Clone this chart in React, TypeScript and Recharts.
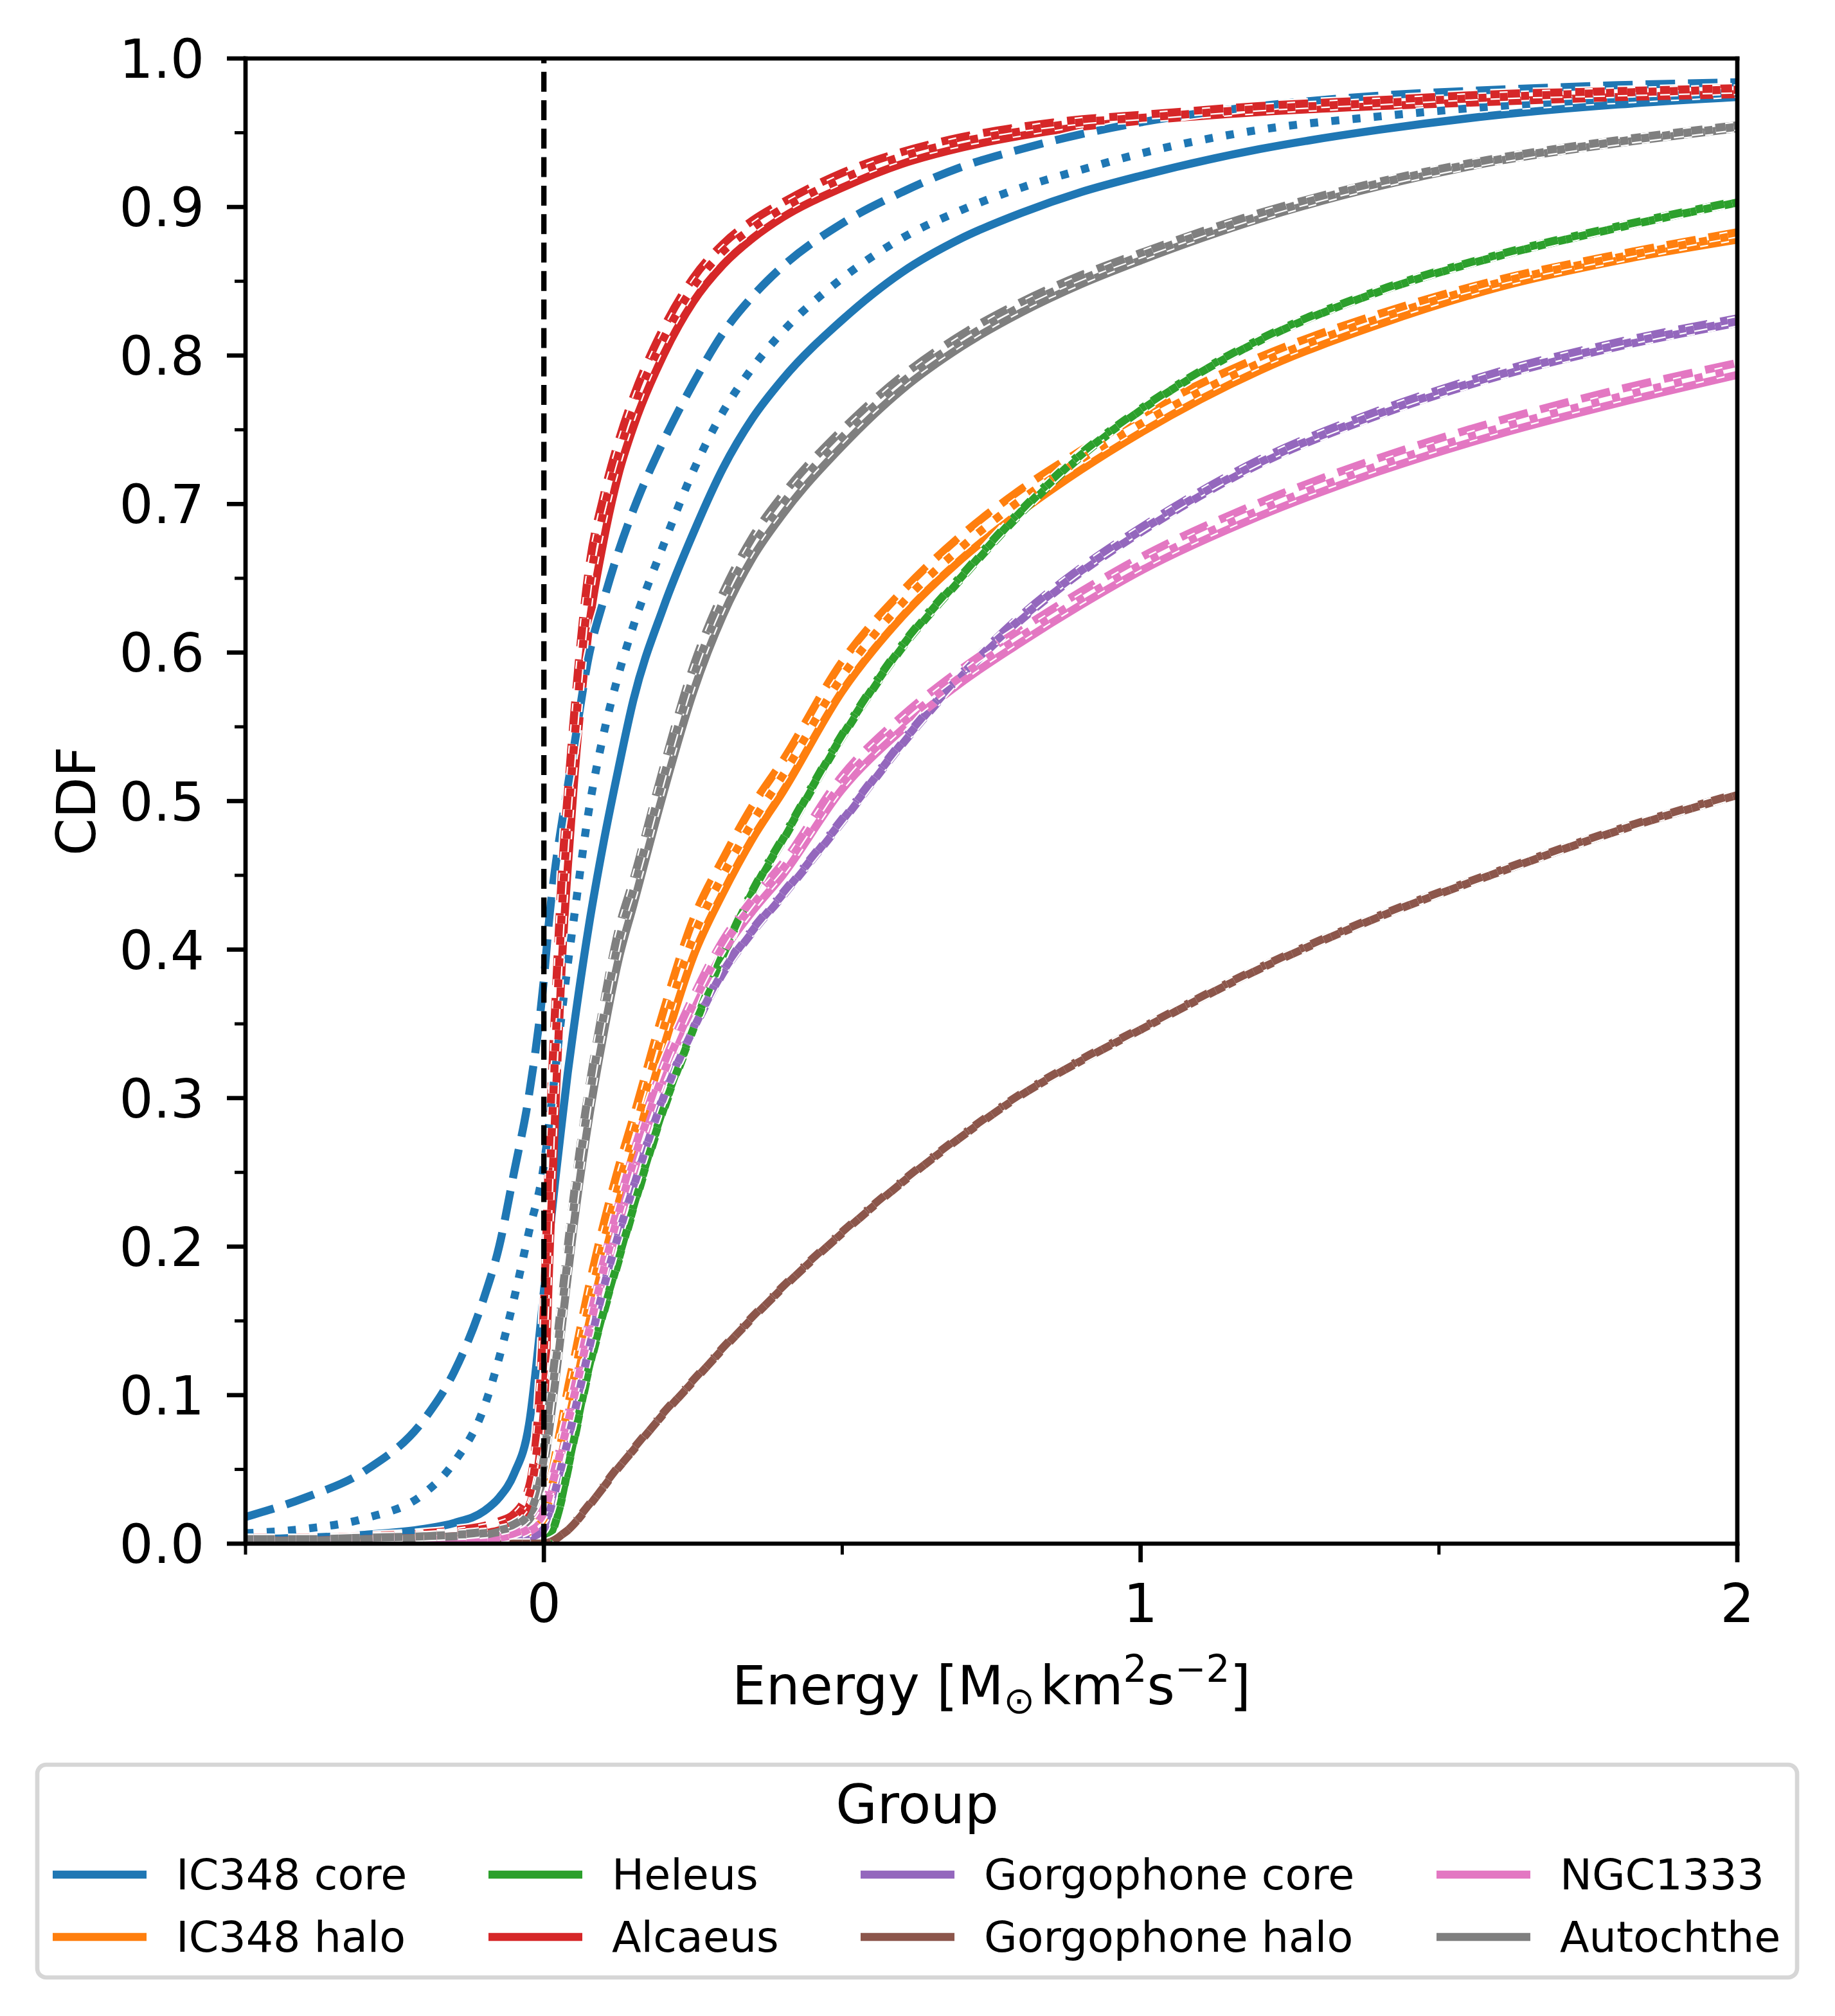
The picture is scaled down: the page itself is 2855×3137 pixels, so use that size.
import React from 'react';
import { LineChart, Line, XAxis, YAxis, ReferenceLine, Label } from 'recharts';

// Energy grid (x values)
const energy = [-0.5, -0.4, -0.3, -0.2, -0.15, -0.1, -0.075, -0.05, -0.025, 0, 0.01, 0.02, 0.03, 0.04, 0.05, 0.075, 0.1, 0.125, 0.15, 0.2, 0.25, 0.3, 0.35, 0.4, 0.5, 0.6, 0.7, 0.8, 0.9, 1.0, 1.2, 1.4, 1.6, 1.8, 2.0];

const groups = ['IC348 core', 'IC348 halo', 'Heleus', 'Alcaeus', 'Gorgophone core', 'Gorgophone halo', 'NGC1333', 'Autochthe'];
const colors = ['#1f77b4', '#ff7f0e', '#2ca02c', '#d62728', '#9467bd', '#8c564b', '#e377c2', '#7f7f7f'];

const xTicks = [-0.5, 0, 0.5, 1, 1.5, 2];
const yTicks = [0, 0.05, 0.1, 0.15, 0.2, 0.25, 0.3, 0.35, 0.4, 0.45, 0.5, 0.55, 0.6, 0.65, 0.7, 0.75, 0.8, 0.85, 0.9, 0.95, 1.0];

// IC348 core
const ic348CoreSolid = [0.003, 0.004, 0.006, 0.010, 0.014, 0.022, 0.031, 0.047, 0.080, 0.170, 0.210, 0.248, 0.283, 0.317, 0.347, 0.415, 0.472, 0.522, 0.568, 0.630, 0.680, 0.724, 0.758, 0.784, 0.824, 0.856, 0.879, 0.896, 0.910, 0.921, 0.939, 0.952, 0.962, 0.969, 0.974];
const ic348CoreDashed = [0.018, 0.031, 0.049, 0.084, 0.116, 0.166, 0.200, 0.250, 0.302, 0.380, 0.425, 0.458, 0.485, 0.510, 0.535, 0.597, 0.635, 0.668, 0.696, 0.742, 0.781, 0.815, 0.840, 0.860, 0.889, 0.910, 0.927, 0.939, 0.949, 0.957, 0.968, 0.975, 0.979, 0.982, 0.984];
const ic348CoreDotted = [0.007, 0.010, 0.017, 0.034, 0.055, 0.092, 0.125, 0.165, 0.210, 0.255, 0.287, 0.322, 0.357, 0.390, 0.420, 0.493, 0.545, 0.585, 0.618, 0.672, 0.722, 0.762, 0.792, 0.816, 0.852, 0.879, 0.898, 0.913, 0.925, 0.936, 0.952, 0.961, 0.968, 0.973, 0.977];

// IC348 halo
const ic348HaloSolid = [0.001, 0.001, 0.001, 0.002, 0.002, 0.003, 0.003, 0.004, 0.006, 0.012, 0.025, 0.042, 0.060, 0.080, 0.099, 0.147, 0.190, 0.229, 0.263, 0.333, 0.395, 0.438, 0.475, 0.506, 0.574, 0.624, 0.663, 0.695, 0.723, 0.748, 0.790, 0.821, 0.846, 0.864, 0.878];
const ic348HaloDashed = [0.002, 0.002, 0.002, 0.003, 0.003, 0.004, 0.005, 0.006, 0.010, 0.022, 0.040, 0.061, 0.082, 0.104, 0.123, 0.172, 0.215, 0.253, 0.287, 0.358, 0.420, 0.461, 0.497, 0.527, 0.594, 0.641, 0.679, 0.710, 0.736, 0.760, 0.799, 0.828, 0.851, 0.868, 0.883];
const ic348HaloDotted = [0.002, 0.002, 0.002, 0.002, 0.003, 0.003, 0.004, 0.005, 0.008, 0.017, 0.032, 0.051, 0.071, 0.092, 0.111, 0.160, 0.203, 0.241, 0.275, 0.346, 0.408, 0.450, 0.486, 0.517, 0.584, 0.633, 0.671, 0.703, 0.730, 0.754, 0.795, 0.825, 0.849, 0.866, 0.881];

// Heleus
const heleusSolid = [0, 0, 0, 0, 0, 0, 0, 0, 0, 0, 0.004, 0.015, 0.030, 0.049, 0.068, 0.116, 0.155, 0.190, 0.225, 0.291, 0.345, 0.395, 0.438, 0.473, 0.543, 0.603, 0.650, 0.694, 0.732, 0.763, 0.810, 0.843, 0.867, 0.886, 0.903];
const heleusDashed = [0, 0, 0, 0, 0, 0, 0, 0, 0, 0, 0.005, 0.016, 0.031, 0.051, 0.070, 0.118, 0.157, 0.192, 0.227, 0.293, 0.347, 0.397, 0.440, 0.475, 0.545, 0.605, 0.652, 0.696, 0.734, 0.764, 0.811, 0.844, 0.868, 0.887, 0.904];
const heleusDotted = [0, 0, 0, 0, 0, 0, 0, 0, 0, 0, 0.004, 0.015, 0.030, 0.050, 0.069, 0.117, 0.156, 0.191, 0.226, 0.292, 0.346, 0.396, 0.439, 0.474, 0.544, 0.604, 0.651, 0.695, 0.733, 0.763, 0.810, 0.843, 0.867, 0.886, 0.903];

// Alcaeus
const alcaeusSolid = [0.002, 0.002, 0.003, 0.004, 0.005, 0.007, 0.009, 0.013, 0.025, 0.090, 0.200, 0.300, 0.390, 0.455, 0.510, 0.615, 0.675, 0.720, 0.752, 0.800, 0.836, 0.861, 0.879, 0.893, 0.913, 0.929, 0.940, 0.948, 0.954, 0.958, 0.964, 0.968, 0.971, 0.974, 0.976];
const alcaeusDashed = [0.004, 0.004, 0.005, 0.007, 0.009, 0.012, 0.015, 0.020, 0.038, 0.160, 0.280, 0.370, 0.450, 0.505, 0.555, 0.655, 0.705, 0.742, 0.772, 0.818, 0.852, 0.875, 0.891, 0.903, 0.923, 0.937, 0.947, 0.954, 0.959, 0.962, 0.968, 0.972, 0.976, 0.978, 0.980];
const alcaeusDotted = [0.003, 0.003, 0.004, 0.006, 0.007, 0.010, 0.012, 0.017, 0.032, 0.130, 0.245, 0.340, 0.425, 0.485, 0.535, 0.640, 0.695, 0.733, 0.764, 0.811, 0.846, 0.870, 0.886, 0.899, 0.919, 0.934, 0.944, 0.951, 0.957, 0.960, 0.966, 0.970, 0.974, 0.977, 0.979];

// Gorgophone core
const gorgCoreSolid = [0, 0, 0.001, 0.001, 0.001, 0.002, 0.002, 0.003, 0.004, 0.010, 0.022, 0.037, 0.053, 0.069, 0.086, 0.130, 0.172, 0.208, 0.240, 0.300, 0.345, 0.384, 0.412, 0.436, 0.486, 0.538, 0.584, 0.622, 0.654, 0.681, 0.727, 0.760, 0.786, 0.806, 0.822];
const gorgCoreDashed = [0, 0, 0.001, 0.001, 0.001, 0.002, 0.002, 0.003, 0.005, 0.011, 0.023, 0.038, 0.054, 0.070, 0.087, 0.131, 0.173, 0.209, 0.241, 0.301, 0.347, 0.386, 0.414, 0.438, 0.488, 0.540, 0.586, 0.625, 0.657, 0.684, 0.730, 0.763, 0.789, 0.809, 0.825];
const gorgCoreDotted = [0, 0, 0.001, 0.001, 0.001, 0.002, 0.002, 0.003, 0.004, 0.010, 0.022, 0.037, 0.053, 0.069, 0.086, 0.130, 0.172, 0.208, 0.240, 0.300, 0.346, 0.385, 0.413, 0.437, 0.487, 0.539, 0.585, 0.623, 0.655, 0.682, 0.728, 0.761, 0.787, 0.807, 0.823];

// Gorgophone halo
const gorgHaloSolid = [0, 0, 0, 0, 0, 0, 0, 0, 0, 0, 0.001, 0.003, 0.006, 0.009, 0.013, 0.025, 0.038, 0.051, 0.063, 0.087, 0.109, 0.131, 0.152, 0.172, 0.209, 0.243, 0.274, 0.302, 0.325, 0.346, 0.387, 0.422, 0.452, 0.480, 0.504];
const gorgHaloDashed = [0, 0, 0, 0, 0, 0, 0, 0, 0, 0, 0.001, 0.003, 0.006, 0.010, 0.014, 0.026, 0.039, 0.052, 0.064, 0.088, 0.110, 0.132, 0.153, 0.173, 0.210, 0.244, 0.275, 0.303, 0.326, 0.347, 0.388, 0.423, 0.453, 0.481, 0.505];
const gorgHaloDotted = [0, 0, 0, 0, 0, 0, 0, 0, 0, 0, 0.001, 0.003, 0.006, 0.009, 0.013, 0.025, 0.038, 0.051, 0.063, 0.087, 0.109, 0.131, 0.152, 0.172, 0.209, 0.243, 0.274, 0.302, 0.325, 0.346, 0.387, 0.422, 0.452, 0.480, 0.504];

// NGC1333
const ngc1333Solid = [0.001, 0.001, 0.001, 0.002, 0.002, 0.003, 0.004, 0.005, 0.008, 0.018, 0.030, 0.045, 0.060, 0.076, 0.092, 0.136, 0.178, 0.215, 0.250, 0.310, 0.358, 0.398, 0.426, 0.450, 0.508, 0.548, 0.580, 0.607, 0.632, 0.655, 0.692, 0.722, 0.747, 0.768, 0.787];
const ngc1333Dashed = [0.002, 0.002, 0.002, 0.003, 0.003, 0.004, 0.005, 0.007, 0.012, 0.024, 0.037, 0.053, 0.069, 0.086, 0.103, 0.148, 0.190, 0.228, 0.263, 0.322, 0.368, 0.406, 0.434, 0.458, 0.517, 0.557, 0.589, 0.616, 0.641, 0.664, 0.701, 0.731, 0.756, 0.777, 0.795];
const ngc1333Dotted = [0.001, 0.001, 0.002, 0.002, 0.003, 0.003, 0.004, 0.006, 0.010, 0.021, 0.034, 0.049, 0.065, 0.081, 0.098, 0.142, 0.184, 0.222, 0.257, 0.316, 0.363, 0.402, 0.430, 0.454, 0.512, 0.552, 0.584, 0.611, 0.636, 0.659, 0.696, 0.726, 0.751, 0.772, 0.791];

// Autochthe
const autochtheSolid = [0.002, 0.002, 0.003, 0.004, 0.005, 0.006, 0.008, 0.010, 0.016, 0.050, 0.080, 0.112, 0.146, 0.180, 0.214, 0.285, 0.343, 0.393, 0.430, 0.505, 0.573, 0.625, 0.664, 0.693, 0.739, 0.777, 0.806, 0.829, 0.848, 0.864, 0.892, 0.914, 0.931, 0.943, 0.953];
const autochtheDashed = [0.003, 0.003, 0.004, 0.005, 0.006, 0.008, 0.010, 0.013, 0.022, 0.065, 0.098, 0.130, 0.165, 0.200, 0.234, 0.305, 0.363, 0.413, 0.447, 0.522, 0.590, 0.640, 0.678, 0.706, 0.750, 0.786, 0.814, 0.836, 0.854, 0.869, 0.896, 0.917, 0.933, 0.945, 0.955];
const autochtheDotted = [0.003, 0.003, 0.004, 0.005, 0.006, 0.007, 0.009, 0.012, 0.020, 0.058, 0.090, 0.122, 0.157, 0.192, 0.226, 0.297, 0.355, 0.405, 0.440, 0.515, 0.583, 0.634, 0.672, 0.700, 0.745, 0.782, 0.810, 0.833, 0.851, 0.867, 0.894, 0.916, 0.932, 0.944, 0.954];

const solidSeries = [ic348CoreSolid, ic348HaloSolid, heleusSolid, alcaeusSolid, gorgCoreSolid, gorgHaloSolid, ngc1333Solid, autochtheSolid];
const dashedSeries = [ic348CoreDashed, ic348HaloDashed, heleusDashed, alcaeusDashed, gorgCoreDashed, gorgHaloDashed, ngc1333Dashed, autochtheDashed];
const dottedSeries = [ic348CoreDotted, ic348HaloDotted, heleusDotted, alcaeusDotted, gorgCoreDotted, gorgHaloDotted, ngc1333Dotted, autochtheDotted];

const styles: { key: string; series: number[][]; dash?: string }[] = [
  { key: 'solid', series: solidSeries },
  { key: 'dashed', series: dashedSeries, dash: '46 20' },
  { key: 'dotted', series: dottedSeries, dash: '12.5 20.6' },
];

const rows = energy.map((e, i) => {
  const row: Record<string, number> = { e };
  styles.forEach((st) => {
    st.series.forEach((s, gi) => {
      row[`${st.key}_${gi}`] = s[i];
    });
  });
  return row;
});

const FONT = 'DejaVu Sans, sans-serif';
const LW = 12.5;
const SPINE = 6.7;

const XTick = (props: any) => {
  const { x, y, payload } = props;
  const v = payload.value as number;
  const major = Number.isInteger(v);
  return (
    <g>
      <line x1={x} x2={x} y1={y} y2={y + (major ? 29 : 17)} stroke="#000" strokeWidth={major ? SPINE : 5} />
      {major && (
        <text x={x} y={y + 122} textAnchor="middle" fontSize={83.3} fontFamily={FONT} fill="#000">
          {String(v)}
        </text>
      )}
    </g>
  );
};

const YTick = (props: any) => {
  const { x, y, payload } = props;
  const v = payload.value as number;
  const major = Math.round(v * 100) % 10 === 0;
  return (
    <g>
      <line x1={x} x2={x - (major ? 29 : 17)} y1={y} y2={y} stroke="#000" strokeWidth={major ? SPINE : 5} />
      {major && (
        <text x={x - 64} y={y + 30} textAnchor="end" fontSize={83.3} fontFamily={FONT} fill="#000">
          {v.toFixed(1)}
        </text>
      )}
    </g>
  );
};

const XLabelContent = (props: any) => {
  const vb = props.viewBox || { x: 0, y: 0, width: 0, height: 0 };
  const cx = vb.x + vb.width / 2;
  const by = vb.y + 250;
  return (
    <text x={cx} y={by} textAnchor="middle" fontSize={83.3} fontFamily={FONT} fill="#000">
      Energy [M
      <tspan fontSize={58} dy={14}>⊙</tspan>
      <tspan dy={-14} dx={8}>km</tspan>
      <tspan fontSize={58} dy={-35}>2</tspan>
      <tspan dy={35}>s</tspan>
      <tspan fontSize={58} dy={-35}>−2</tspan>
      <tspan dy={35}>]</tspan>
    </text>
  );
};

const YLabelContent = (props: any) => {
  const vb = props.viewBox || { x: 0, y: 0, width: 0, height: 0 };
  const cy = vb.y + vb.height / 2;
  const bx = 148;
  return (
    <text x={bx} y={cy} transform={`rotate(-90 ${bx} ${cy})`} textAnchor="middle" fontSize={83.3} fontFamily={FONT} fill="#000">
      CDF
    </text>
  );
};

const legendCols = [82, 760, 1339, 2235];
const legendRows = [2917, 3014];

const LegendBox = () => (
  <svg width={2855} height={3137} style={{ position: 'absolute', left: 0, top: 0, pointerEvents: 'none' }}>
    <rect x={58} y={2746} width={2738} height={331} rx={14} ry={14} fill="#fff" stroke="#d6d6d6" strokeWidth={6.7} />
    <text x={1427} y={2837} textAnchor="middle" fontSize={83.3} fontFamily={FONT} fill="#000">
      Group
    </text>
    {groups.map((g, gi) => {
      const col = Math.floor(gi / 2);
      const row = gi % 2;
      const hx = legendCols[col];
      const hy = legendRows[row];
      return (
        <g key={g}>
          <line x1={hx} x2={hx + 146} y1={hy} y2={hy} stroke={colors[gi]} strokeWidth={LW} />
          <text x={hx + 192} y={hy + 23} fontSize={66.7} fontFamily={FONT} fill="#000">
            {g}
          </text>
        </g>
      );
    })}
  </svg>
);

export default function App() {
  const lines: React.ReactNode[] = [];
  styles.forEach((st) => {
    groups.forEach((g, gi) => {
      const dk = `${st.key}_${gi}`;
      if (st.dash) {
        lines.push(
          <Line
            key={`w_${dk}`}
            dataKey={dk}
            type="monotone"
            stroke="#ffffff"
            strokeWidth={17}
            strokeDasharray={st.dash}
            dot={false}
            activeDot={false}
            isAnimationActive={false}
          />
        );
      }
      lines.push(
        <Line
          key={dk}
          dataKey={dk}
          name={g}
          type="monotone"
          stroke={colors[gi]}
          strokeWidth={LW}
          strokeDasharray={st.dash}
          dot={false}
          activeDot={false}
          isAnimationActive={false}
        />
      );
    });
  });

  return (
    <div style={{ position: 'absolute', left: 0, top: 0, width: 2855, height: 3137, background: '#fff' }}>
      <LineChart width={2855} height={2700} data={rows} margin={{ top: 91, right: 152, bottom: 0, left: 0 }}>
        <XAxis
          dataKey="e"
          type="number"
          domain={[-0.5, 2]}
          ticks={xTicks}
          interval={0}
          tickLine={false}
          tickSize={0}
          tickMargin={0}
          tick={(p: any) => <XTick {...p} />}
          axisLine={{ stroke: '#000', strokeWidth: SPINE, strokeLinecap: 'square' }}
          height={298}
          allowDataOverflow
        >
          <Label content={(p: any) => <XLabelContent {...p} />} />
        </XAxis>
        <YAxis
          type="number"
          domain={[0, 1]}
          ticks={yTicks}
          interval={0}
          tickLine={false}
          tickSize={0}
          tickMargin={0}
          tick={(p: any) => <YTick {...p} />}
          axisLine={{ stroke: '#000', strokeWidth: SPINE, strokeLinecap: 'square' }}
          width={382}
          allowDataOverflow
        >
          <Label content={(p: any) => <YLabelContent {...p} />} />
        </YAxis>
        {lines}
        <ReferenceLine x={0} stroke="#000" strokeWidth={8.3} strokeDasharray="31 13.3" />
        <ReferenceLine y={1} stroke="#000" strokeWidth={SPINE} strokeLinecap="square" />
        <ReferenceLine x={2} stroke="#000" strokeWidth={SPINE} strokeLinecap="square" />
      </LineChart>
      <LegendBox />
    </div>
  );
}
